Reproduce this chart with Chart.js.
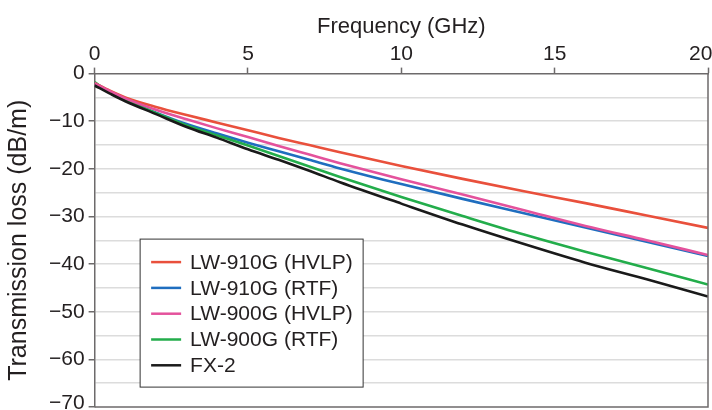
<!DOCTYPE html>
<html lang="en">
<head>
  <meta charset="UTF-8">
  <title>Transmission loss</title>
  <script src="https://cdn.jsdelivr.net/npm/chart.js"></script>
  <style>
    html, body { margin: 0; padding: 0; background: #fff; }
    #wrap { width: 712px; height: 410px; }
  </style>
</head>
<body>
  <div id="wrap"><canvas id="chartLoss" width="712" height="410"></canvas></div>
  <script>
    // frequencies (GHz) where the curves were read
    const freq = [0, 0.5, 1, 2, 3, 4, 5, 6, 7, 8, 10, 12, 14, 16, 18, 20];

    // transmission loss (dB/m) for each material
    const lw910gHvlp = [-2.0, -3.6, -5.0, -7.0, -8.7, -10.3, -11.9, -13.5, -15.0, -16.5, -19.4, -22.1, -24.7, -27.2, -29.8, -32.4];
    const lw910gRtf  = [-2.0, -3.8, -5.5, -8.2, -10.6, -12.6, -14.5, -16.3, -18.1, -19.9, -23.2, -26.3, -29.3, -32.3, -35.3, -38.3];
    const lw900gHvlp = [-2.0, -3.7, -5.2, -7.6, -9.6, -11.5, -13.3, -15.2, -17.0, -18.8, -22.2, -25.4, -28.7, -32.0, -35.0, -38.1];
    const lw900gRtf  = [-1.8, -4.0, -5.6, -8.3, -10.9, -13.0, -15.1, -17.3, -19.5, -21.7, -25.9, -29.9, -33.8, -37.4, -40.8, -44.3];
    const fx2        = [-2.5, -4.2, -5.8, -8.5, -11.2, -13.5, -15.9, -18.1, -20.4, -22.8, -27.3, -31.7, -35.8, -39.7, -43.2, -46.8];

    const seriesNames = ['LW-910G (HVLP)', 'LW-910G (RTF)', 'LW-900G (HVLP)', 'LW-900G (RTF)', 'FX-2'];
    const seriesColors = ['#e9503c', '#1f6ebf', '#e4529c', '#23ad4b', '#1a1a1a'];
    const seriesValues = [lw910gHvlp, lw910gRtf, lw900gHvlp, lw900gRtf, fx2];
    const drawOrder = [3, 5, 2, 4, 1];

    const xTicks = [0, 5, 10, 15, 20];
    const yMin = -70, yMax = 0;

    const FONT = '"Liberation Sans", Arial, sans-serif';
    const TEXT = '#231f20';

    function toPoints(vals) {
      return freq.map((f, i) => ({ x: f, y: vals[i] }));
    }

    // legend box drawn inside the plot, plus frame round the plot area
    const frameAndLegend = {
      id: 'frameAndLegend',
      afterDatasetsDraw(chart) {
        const ctx = chart.ctx;
        const a = chart.chartArea;
        ctx.save();
        ctx.strokeStyle = '#6d6a6b';
        ctx.lineWidth = 1.5;
        ctx.beginPath();
        ctx.moveTo(a.left, a.bottom);
        ctx.lineTo(a.right, a.bottom);
        ctx.lineTo(a.right, a.top);
        ctx.stroke();

        // legend
        const bx = a.left + 45.5, by = a.top + 165.5, bw = 223, bh = 148;
        ctx.fillStyle = '#fff';
        ctx.fillRect(bx, by, bw, bh);
        ctx.strokeStyle = '#333';
        ctx.lineWidth = 1;
        ctx.strokeRect(bx, by, bw, bh);
        ctx.font = '21px ' + FONT;
        ctx.textBaseline = 'middle';
        seriesNames.forEach((name, i) => {
          const ry = by + 23 + i * 25.8;
          ctx.strokeStyle = seriesColors[i];
          ctx.lineWidth = 2.5;
          ctx.beginPath();
          ctx.moveTo(bx + 11, ry);
          ctx.lineTo(bx + 41, ry);
          ctx.stroke();
          ctx.fillStyle = TEXT;
          ctx.fillText(name, bx + 50, ry + 1);
        });
        ctx.restore();
      }
    };

    const ctxLoss = document.getElementById('chartLoss').getContext('2d');
    const chartLoss = new Chart(ctxLoss, {
      type: 'line',
      data: {
        datasets: seriesNames.map((name, i) => ({
          label: name,
          data: toPoints(seriesValues[i]),
          borderColor: seriesColors[i],
          backgroundColor: seriesColors[i],
          borderWidth: 2.6,
          pointRadius: 0,
          cubicInterpolationMode: 'monotone',
          order: drawOrder[i]
        }))
      },
      options: {
        responsive: false,
        animation: false,
        layout: { autoPadding: false, padding: { top: 14, right: 4, bottom: 3, left: 4 } },
        plugins: {
          legend: { display: false },
          tooltip: { enabled: false }
        },
        scales: {
          x: {
            type: 'linear',
            position: 'top',
            min: 0,
            max: 20,
            afterBuildTicks: (axis) => { axis.ticks = xTicks.map(v => ({ value: v })); },
            // end labels may hang over the frame, as in the original
            afterFit: (axis) => { axis.paddingLeft = 0; axis.paddingRight = 0; },
            ticks: {
              color: TEXT,
              font: { family: FONT, size: 21 },
              padding: 1,
              maxRotation: 0,
              // last label is pulled back inside the page
              callback: (v) => (v === 20 ? '20\u2002\u2009' : String(v))
            },
            grid: { drawOnChartArea: false, drawTicks: true, tickLength: 6, tickColor: '#6d6a6b', tickWidth: 1.5 },
            border: { display: true, color: '#6d6a6b', width: 1.5 },
            title: { display: true, text: 'Frequency (GHz)', color: TEXT, font: { family: FONT, size: 22 }, padding: 0 }
          },
          y: {
            min: yMin,
            max: yMax,
            afterFit: (axis) => { axis.paddingTop = 0; axis.paddingBottom = 0; },
            ticks: {
              stepSize: 5,
              color: TEXT,
              font: { family: FONT, size: 21, lineHeight: '8px' },
              padding: 4,
              callback: (v) => {
                if (v % 10 !== 0) return '';
                if (v === 0) return '0';
                const s = '\u2212' + Math.abs(v);
                // bottom label sits a little higher, as in the original
                return v === yMin ? [s, ''] : s;
              }
            },
            grid: {
              color: (c) => (c.tick && (c.tick.value === yMin || c.tick.value === yMax) ? 'rgba(0,0,0,0)' : '#dcdcdc'),
              lineWidth: 1.5,
              tickLength: 6,
              tickWidth: 1.5,
              tickColor: (c) => (c.tick && c.tick.value % 10 === 0 ? '#6d6a6b' : 'rgba(0,0,0,0)')
            },
            border: { display: true, color: '#6d6a6b', width: 1.5 },
            title: { display: true, text: 'Transmission loss (dB/m)', color: TEXT, font: { family: FONT, size: 25 }, padding: { top: 0, bottom: 11 } }
          }
        }
      },
      plugins: [frameAndLegend]
    });
  </script>
</body>
</html>
